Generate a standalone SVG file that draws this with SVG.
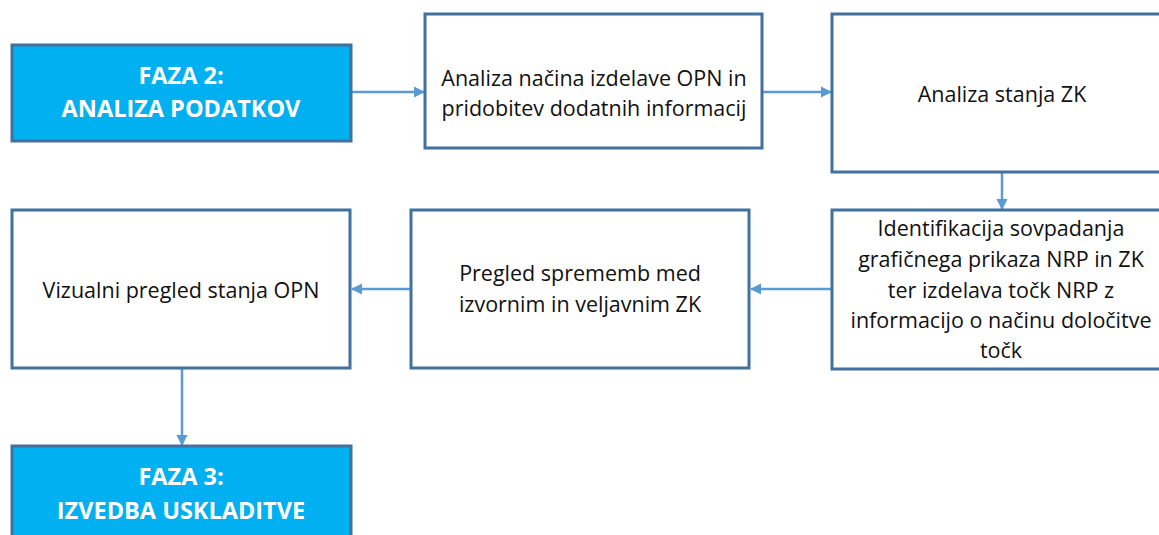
<svg xmlns="http://www.w3.org/2000/svg" width="1159" height="535" viewBox="0 0 1159 535">
  <style>
    .box { fill: #ffffff; stroke: #41719c; stroke-width: 3; }
    .phase { fill: #00b0f0; stroke: #41719c; stroke-width: 3; }
    .txt { font-family: "Open Sans", "Liberation Sans", sans-serif; font-size: 21.5px; fill: #111111; text-anchor: middle; }
    .ptxt { font-family: "Open Sans", "Liberation Sans", sans-serif; font-size: 23.5px; font-weight: bold; fill: #ffffff; text-anchor: middle; }
    .conn { stroke: #5b9bd5; stroke-width: 2.5; fill: none; marker-end: url(#arrow); }
  </style>
  <defs>
    <marker id="arrow" viewBox="0 0 10 10" refX="9" refY="5" markerWidth="4.5" markerHeight="4.5" orient="auto" markerUnits="strokeWidth">
      <path d="M0,0 L10,5 L0,10 z" fill="#5b9bd5"/>
    </marker>
  </defs>

  <rect width="1159" height="535" fill="#ffffff"/>

  <g id="connectors">
    <line class="conn" x1="351" y1="92" x2="424" y2="92"/>
    <line class="conn" x1="762" y1="92" x2="831" y2="92"/>
    <line class="conn" x1="1002" y1="173" x2="1002" y2="209"/>
    <line class="conn" x1="832" y1="289" x2="751" y2="289"/>
    <line class="conn" x1="411" y1="289" x2="352" y2="289"/>
    <line class="conn" x1="182" y1="368" x2="182" y2="445"/>
  </g>

  <g id="faza2">
    <rect class="phase" x="12" y="45" width="339" height="96"/>
    <text class="ptxt" x="181" y="84">FAZA 2:</text>
    <text class="ptxt" x="181" y="117">ANALIZA PODATKOV</text>
  </g>

  <g id="analiza-opn">
    <rect class="box" x="425" y="14" width="337" height="134"/>
    <text class="txt" x="594" y="86">Analiza načina izdelave OPN in</text>
    <text class="txt" x="594" y="116">pridobitev dodatnih informacij</text>
  </g>

  <g id="analiza-zk">
    <rect class="box" x="832" y="14" width="340" height="158"/>
    <text class="txt" x="1002" y="102">Analiza stanja ZK</text>
  </g>

  <g id="identifikacija">
    <rect class="box" x="832" y="210" width="340" height="159"/>
    <text class="txt" x="1001" y="236">Identifikacija sovpadanja</text>
    <text class="txt" x="1001" y="267">grafičnega prikaza NRP in ZK</text>
    <text class="txt" x="1001" y="298">ter izdelava točk NRP z</text>
    <text class="txt" x="1001" y="328">informacijo o načinu določitve</text>
    <text class="txt" x="1001" y="358">točk</text>
  </g>

  <g id="pregled-sprememb">
    <rect class="box" x="411" y="210" width="338" height="158"/>
    <text class="txt" x="580" y="281">Pregled sprememb med</text>
    <text class="txt" x="580" y="312">izvornim in veljavnim ZK</text>
  </g>

  <g id="vizualni-pregled">
    <rect class="box" x="12" y="210" width="338" height="158"/>
    <text class="txt" x="181" y="298">Vizualni pregled stanja OPN</text>
  </g>

  <g id="faza3">
    <rect class="phase" x="12" y="446" width="339" height="100"/>
    <text class="ptxt" x="181" y="485">FAZA 3:</text>
    <text class="ptxt" x="181" y="519">IZVEDBA USKLADITVE</text>
  </g>
</svg>
